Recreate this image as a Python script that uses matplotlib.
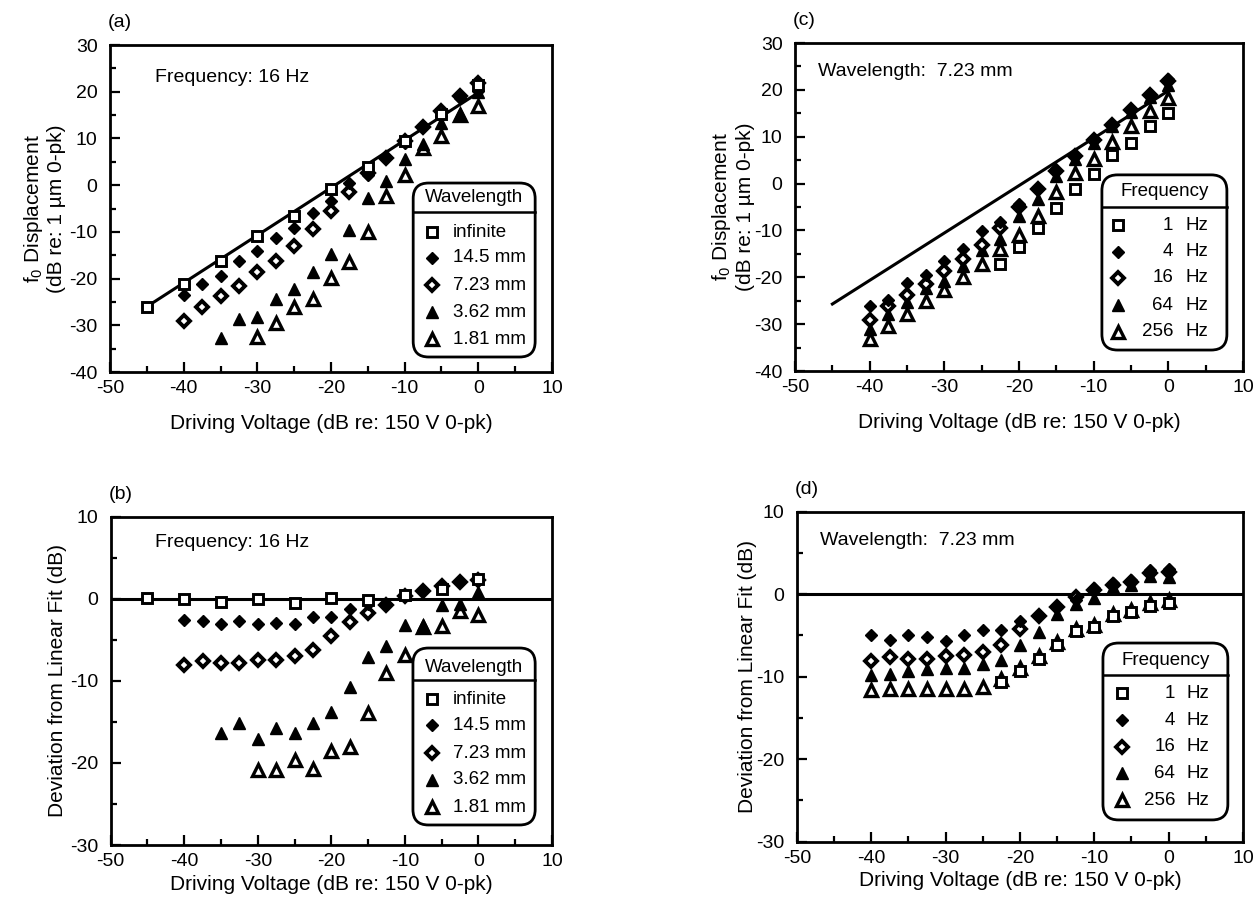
import matplotlib
matplotlib.use("Agg")
import matplotlib.pyplot as plt
from matplotlib.patches import FancyBboxPatch
from matplotlib.lines import Line2D
from matplotlib.ticker import MultipleLocator

plt.rcParams['font.family'] = ['Liberation Sans', 'DejaVu Sans']
plt.rcParams['mathtext.default'] = 'regular'
plt.rcParams['axes.unicode_minus'] = False

# driving voltage steps (dB re: 150 V 0-pk)
volt_5 = [-45, -40, -35, -30, -25, -20, -15, -10, -5, 0]
volt_40 = [-40, -37.5, -35, -32.5, -30, -27.5, -25, -22.5, -20, -17.5,
           -15, -12.5, -10, -7.5, -5, -2.5, 0]
volt_35 = volt_40[2:]
volt_30 = volt_40[4:]
volt_22 = volt_40[7:]

# linear fit used in (a) and (c)
fit_x = [-45, 0]
fit_a = [-26.0, 19.8]
fit_c = [-25.7, 19.8]

# (a) f0 displacement, frequency 16 Hz, per wavelength
a_inf = [-26.0, -21.1, -16.3, -10.9, -6.5, -0.9, 3.8, 9.4, 15.2, 21.4]
a_145 = [-23.6, -21.1, -19.4, -16.3, -14.0, -11.3, -9.1, -6.0, -3.3, 0.5,
         2.1, 6.0, 9.0, 12.7, 14.7, 18.7, 20.2]
a_723 = [-29.1, -26.1, -23.8, -21.6, -18.5, -16.3, -13.1, -9.4, -5.5, -1.4,
         2.5, 5.9, 9.4, 12.4, 15.8, 19.0, 21.8]
a_362 = [-32.7, -28.7, -28.2, -24.3, -22.3, -18.5, -14.8, -9.6, -2.7, 0.9,
         5.6, 8.8, 13.3, 15.2, 20.0]
a_181 = [-32.5, -29.6, -26.1, -24.3, -19.9, -16.5, -10.0, -2.3, 2.1, 7.9,
         10.6, 15.0, 17.0]

# (b) deviation from linear fit, frequency 16 Hz
b_inf = [0.1, 0.0, -0.4, 0.0, -0.5, 0.1, -0.2, 0.4, 1.2, 2.4]
b_145 = [-2.6, -2.7, -3.1, -2.7, -3.1, -2.9, -3.1, -2.2, -2.2, -1.2,
         -0.6, -0.6, 0.4, 1.1, 1.6, 2.0, 2.2]
b_723 = [-8.1, -7.6, -7.8, -7.8, -7.5, -7.5, -7.0, -6.3, -4.5, -2.8,
         -1.7, -0.7, 0.3, 1.0, 1.5, 2.0, 2.3]
b_362 = [-16.4, -15.1, -17.1, -15.8, -16.4, -15.1, -13.8, -10.8, -7.1, -5.8,
         -3.2, -3.2, -0.8, -0.6, 0.8]
b_181 = [-20.9, -20.9, -19.7, -20.7, -18.6, -18.1, -13.9, -9.1, -6.8, -3.4,
         -3.3, -1.5, -2.0]

# (c) f0 displacement, wavelength 7.23 mm, per frequency
c_1 = [-17.2, -13.6, -9.4, -5.3, -1.2, 2.0, 6.0, 8.6, 12.3, 15.1]
c_4 = [-26.2, -24.8, -21.2, -19.5, -16.6, -14.0, -10.2, -8.3, -4.3, -1.1,
       2.7, 5.9, 9.6, 12.4, 16.0, 19.2, 22.3]
c_16 = [-29.2, -26.2, -23.8, -21.4, -18.6, -16.0, -13.1, -9.4, -5.1, -1.2,
        2.7, 5.9, 9.4, 12.4, 15.8, 19.0, 21.8]
c_64 = [-31.0, -27.8, -25.2, -22.3, -20.7, -17.5, -14.2, -11.8, -6.9, -3.3,
        1.6, 5.2, 8.7, 12.3, 15.2, 18.5, 21.1]
c_256 = [-33.1, -30.3, -27.8, -25.0, -22.8, -20.0, -17.2, -14.0, -11.0, -6.9,
         -1.9, 2.2, 5.3, 8.9, 12.3, 15.5, 18.3]

# (d) deviation from linear fit, wavelength 7.23 mm
d_1 = [-10.6, -9.3, -7.8, -6.1, -4.5, -4.0, -2.7, -2.2, -1.4, -1.1]
d_4 = [-5.0, -5.6, -5.0, -5.2, -5.7, -5.0, -4.4, -4.4, -3.2, -2.5,
       -1.4, -0.7, 0.8, 1.4, 1.7, 2.9, 3.0]
d_16 = [-8.1, -7.6, -7.8, -7.8, -7.5, -7.4, -7.0, -6.1, -4.2, -2.6,
        -1.6, -0.3, 0.5, 1.1, 1.5, 2.6, 2.7]
d_64 = [-9.8, -9.7, -9.3, -9.1, -9.0, -9.0, -8.5, -8.0, -6.1, -4.6,
        -2.4, -1.2, -0.5, 0.9, 1.1, 2.2, 2.1]
d_256 = [-11.6, -11.5, -11.5, -11.5, -11.5, -11.5, -11.2, -10.3, -9.0, -7.5,
         -5.8, -4.2, -3.7, -2.4, -1.9, -1.1, -0.7]

wave_labels = ['infinite', '14.5 mm', '7.23 mm', '3.62 mm', '1.81 mm']
freq_labels = ['1', '4', '16', '64', '256']

SQUARE = dict(marker='s', ms=6.5, mfc='white', mec='black', mew=2.1, ls='none')
DIAMOND = dict(marker='D', ms=6, mfc='black', mec='black', mew=1, ls='none')
DIAMOND_OPEN = dict(marker='D', ms=5.8, mfc='white', mec='black', mew=2.8, ls='none')
TRI = dict(marker='^', ms=8.5, mfc='black', mec='black', mew=1, ls='none')
TRI_OPEN = dict(marker='^', ms=8, mfc='white', mec='black', mew=2.4, ls='none')
STYLES = [SQUARE, DIAMOND, DIAMOND_OPEN, TRI, TRI_OPEN]

XLABEL = 'Driving Voltage (dB re: 150 V 0-pk)'
DISP_LABEL = 'f$_0$ Displacement\n(dB re: 1 \u00b5m 0-pk)'
DEV_LABEL = 'Deviation from Linear Fit (dB)'


def setup_axes(ax, ylim, ylabel, ylabel_x, panel, note, note_xy, labelpad):
    """Frame, ticks and texts shared by all four panels"""
    ax.set_xlim(-50, 10)
    ax.set_ylim(*ylim)
    ax.set_xticks(range(-50, 11, 10))
    ax.set_yticks(range(ylim[0], ylim[1] + 1, 10))
    ax.xaxis.set_minor_locator(MultipleLocator(5))
    ax.yaxis.set_minor_locator(MultipleLocator(5))
    ax.tick_params(which='both', direction='in', top=False, right=False,
                   width=1.6, labelsize=14)
    ax.tick_params(which='major', length=7)
    ax.tick_params(which='minor', length=4)
    ax.tick_params(axis='x', pad=6)
    ax.tick_params(axis='y', pad=9)
    for sp in ax.spines.values():
        sp.set_linewidth(2)
    ax.set_xlabel(XLABEL, fontsize=15, labelpad=labelpad)
    ax.set_ylabel(ylabel, fontsize=15, linespacing=1.15)
    ax.yaxis.set_label_coords(ylabel_x, 0.5)
    ax.annotate(panel, xy=(0, 1), xycoords='axes fraction', xytext=(-1.5, 16),
                textcoords='offset points', ha='left', va='center', fontsize=14)
    ax.text(note_xy[0], note_xy[1], note, transform=ax.transAxes,
            ha='left', va='center', fontsize=14)


def draw_key(ax, title, box, title_y, sep_y, rows, mark_x, labels,
             text_x, hz_x=None):
    """Rounded key box with a title row, as in the original figure"""
    x0, y0, x1, y1 = box
    bb = ax.get_position()
    fig_w, fig_h = ax.figure.get_size_inches()
    aspect = (bb.width * fig_w) / (bb.height * fig_h)
    patch = FancyBboxPatch((x0, y0), x1 - x0, y1 - y0,
                           boxstyle='round,pad=0,rounding_size=0.035',
                           mutation_aspect=aspect, transform=ax.transAxes,
                           fc='white', ec='black', lw=2, zorder=5)
    ax.add_patch(patch)
    ax.add_line(Line2D([x0, x1], [sep_y, sep_y], transform=ax.transAxes,
                       color='black', lw=1.8, zorder=6))
    ax.text((x0 + x1) / 2, title_y, title, transform=ax.transAxes,
            ha='center', va='center', fontsize=13.5, zorder=6)
    for y, style, lab in zip(rows, STYLES, labels):
        ax.plot([mark_x], [y], transform=ax.transAxes, zorder=6,
                clip_on=False, **style)
        if hz_x is None:
            ax.text(text_x, y, lab, transform=ax.transAxes, ha='left',
                    va='center', fontsize=13.5, zorder=6)
        else:
            ax.text(text_x, y, lab, transform=ax.transAxes, ha='right',
                    va='center', fontsize=13.5, zorder=6)
            ax.text(hz_x, y, 'Hz', transform=ax.transAxes, ha='left',
                    va='center', fontsize=13.5, zorder=6)


fig = plt.figure(figsize=(12.59, 9.15), dpi=100)
ax_a = fig.add_axes([0.0874, 0.5934, 0.3510, 0.3574])
ax_b = fig.add_axes([0.0879, 0.0765, 0.3505, 0.3588])
ax_c = fig.add_axes([0.6315, 0.5945, 0.3558, 0.3585])
ax_d = fig.add_axes([0.6330, 0.0801, 0.3543, 0.3607])

# (a)
ax_a.plot(fit_x, fit_a, color='black', lw=2.2)
ax_a.plot(volt_30, a_181, **TRI_OPEN)
ax_a.plot(volt_35, a_362, **TRI)
ax_a.plot(volt_40, a_723, **DIAMOND_OPEN)
ax_a.plot(volt_40, a_145, **DIAMOND)
ax_a.plot(volt_5, a_inf, **SQUARE)
setup_axes(ax_a, (-40, 30), DISP_LABEL, -0.10, '(a)', 'Frequency: 16 Hz',
           (0.102, 0.90), 12)
draw_key(ax_a, 'Wavelength', (0.686, 0.046, 0.962, 0.578), 0.535, 0.489,
         [0.428, 0.349, 0.266, 0.183, 0.101], 0.729, wave_labels, 0.776)

# (b)
ax_b.axhline(0, color='black', lw=2.2)
ax_b.plot(volt_30, b_181, **TRI_OPEN)
ax_b.plot(volt_35, b_362, **TRI)
ax_b.plot(volt_40, b_723, **DIAMOND_OPEN)
ax_b.plot(volt_40, b_145, **DIAMOND)
ax_b.plot(volt_5, b_inf, **SQUARE)
setup_axes(ax_b, (-30, 10), DEV_LABEL, -0.10, '(b)', 'Frequency: 16 Hz',
           (0.100, 0.921), 3)
draw_key(ax_b, 'Wavelength', (0.685, 0.061, 0.962, 0.600), 0.542, 0.502,
         [0.444, 0.365, 0.280, 0.198, 0.115], 0.729, wave_labels, 0.776)

# (c)
ax_c.plot(fit_x, fit_c, color='black', lw=2.2)
ax_c.plot(volt_22, c_1, **SQUARE)
ax_c.plot(volt_40, c_256, **TRI_OPEN)
ax_c.plot(volt_40, c_64, **TRI)
ax_c.plot(volt_40, c_16, **DIAMOND_OPEN)
ax_c.plot(volt_40, c_4, **DIAMOND)
setup_axes(ax_c, (-40, 30), DISP_LABEL, -0.09, '(c)', 'Wavelength:  7.23 mm',
           (0.051, 0.913), 12)
draw_key(ax_c, 'Frequency', (0.685, 0.064, 0.964, 0.598), 0.546, 0.500,
         [0.445, 0.363, 0.284, 0.201, 0.119], 0.721, freq_labels, 0.844,
         hz_x=0.871)

# (d)
ax_d.axhline(0, color='black', lw=2.2)
ax_d.plot(volt_40, d_256, **TRI_OPEN)
ax_d.plot(volt_22, d_1, **SQUARE)
ax_d.plot(volt_40, d_64, **TRI)
ax_d.plot(volt_40, d_16, **DIAMOND_OPEN)
ax_d.plot(volt_40, d_4, **DIAMOND)
setup_axes(ax_d, (-30, 10), DEV_LABEL, -0.09, '(d)', 'Wavelength:  7.23 mm',
           (0.052, 0.914), 3)
draw_key(ax_d, 'Frequency', (0.686, 0.066, 0.966, 0.602), 0.550, 0.505,
         [0.450, 0.368, 0.287, 0.208, 0.126], 0.729, freq_labels, 0.848,
         hz_x=0.874)

fig.savefig('out.png', dpi=100, facecolor='white')
